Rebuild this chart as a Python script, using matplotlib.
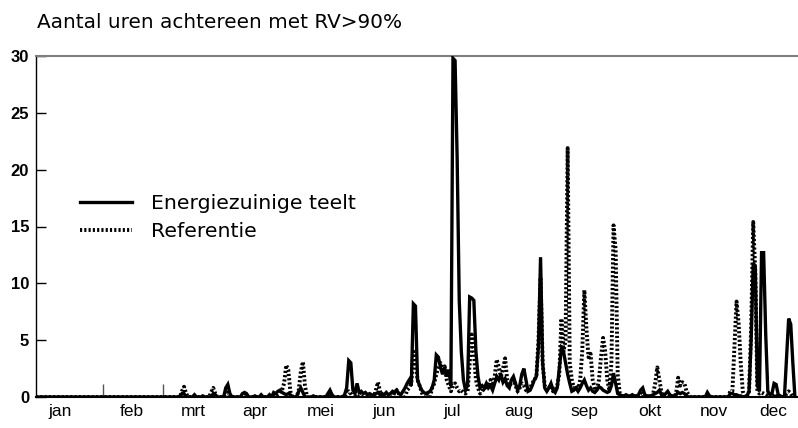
import matplotlib
matplotlib.use("Agg")
import matplotlib.pyplot as plt
import numpy as np

# ---------------- data (daily values, hours in a row with RV>90%) ----------------
maanden = ["jan", "feb", "mrt", "apr", "mei", "jun", "jul", "aug", "sep", "okt", "nov", "dec"]

E_jan = [0,0,0,0,0,0,0,0,0,0, 0,0,0,0,0,0,0,0,0,0, 0,0,0,0,0,0,0,0,0,0, 0]
E_feb = [0,0,0,0,0,0,0,0,0,0, 0,0,0,0,0,0,0,0,0,0, 0,0,0,0,0,0,0,0]
E_mrt = [0,0,0,0,0,0,0,0,0,0, 0,0.3,0.3,0,0,0,0,0.2,0,0, 0,0.1,0,0,0,0,0.3,0.2,0,0, 0]
E_apr = [0,0.8,1.1,0.3,0,0,0,0,0,0.3, 0.4,0.3,0,0,0,0.1,0,0,0.2,0, 0,0,0.2,0,0.4,0.3,0.5,0.6,0.4,0.3]
E_mei = [0.2,0.3,0.2,0,0,0,0.5,0.8,0.4,0, 0,0,0,0.1,0,0,0,0,0,0, 0.3,0.6,0.2,0,0,0,0,0,0.2,0.8, 3.2]
E_jun = [3.0,0.6,0.3,1.2,0.4,0.5,0.3,0.4,0.2,0.3, 0.2,0.1,0.3,0.4,0.2,0.3,0.2,0.4,0.2,0.3, 0.5,0.4,0.6,0.3,0.2,0.5,0.8,1.2,1.5,1.0]
E_jul = [8.2,8.0,1.5,1.0,0.6,0.4,0.3,0.4,0.5,0.8, 1.5,3.7,3.5,2.6,2.0,2.6,1.8,2.4,1.0,29.8, 29.6,21.0,8.5,4.0,1.5,0.6,1.0,8.8,8.7,8.5, 4.0]
E_aug = [1.8,0.8,1.0,0.8,1.2,0.8,1.0,0.6,1.2,1.8, 1.5,2.0,1.3,1.6,1.0,0.8,1.5,1.8,1.2,0.6, 1.0,2.0,2.5,1.5,0.5,0.6,1.0,1.5,1.8,4.5, 12.3]
E_sep = [3.0,0.8,0.5,0.8,1.2,0.6,0.4,0.8,2.5,4.3, 4.0,3.0,2.0,1.2,0.5,0.6,0.8,0.5,0.8,1.2, 1.5,1.0,0.6,0.8,0.5,0.4,0.6,0.9,0.8,0.6]
E_okt = [0.5,0.4,0.5,1.0,2.1,1.2,0.3,0.2,0.1,0.1, 0.2,0.1,0.1,0.2,0.1,0.1,0.2,0.6,0.8,0.2, 0.1,0.1,0.1,0.2,0.3,0.4,0.6,0.2,0.1,0.3, 0.5]
E_nov = [0.2,0.1,0.1,0.2,0.4,0.3,0.4,0.3,0.1,0, 0,0,0,0,0,0,0,0,0.4,0.1, 0,0,0,0,0,0,0,0,0,0.3]
E_dec = [0.3,0.2,0.2,0.1,0.1,0,0,0.1,0.5,5.0, 11.8,11.5,1.0,0.5,12.7,12.7,5.5,0.5,0.2,0.3, 1.2,1.1,0.2,0.1,0,0.1,3.5,6.9,6.4,3.0, 0]

# two isolated one-hour readings (thin grey strokes in February / March)
losse_dagen = [32, 61]
losse_uren = [1.1, 1.1]

R_jan = [0,0,0,0,0,0,0,0,0,0, 0,0,0,0,0,0,0,0,0,0, 0,0,0,0,0,0,0,0,0,0, 0]
R_feb = [0,0,0,0,0,0,0,0,0,0, 0,0,0,0,0,0,0,0,0,0, 0,0,0,0,0,0,0,0]
R_mrt = [0,0,0,0,0,0,0,0,0,0, 0,0.5,0.9,0.3,0,0,0,0,0,0, 0,0,0,0,0,0.4,0.8,0.3,0,0, 0]
R_apr = [0,0.3,0.4,0,0,0,0,0,0,0, 0.2,0,0,0,0,0,0,0,0,0, 0,0,0,0,0,0,0.3,0.5,0.6,1.2]
R_mei = [2.8,2.4,0.5,0,0,0,0.6,2.2,3.1,1.0, 0,0,0,0,0,0,0,0,0,0, 0,0.3,0,0,0,0,0,0,0,0.3, 0.5]
R_jun = [0.3,0,0,0,0.3,0,0,0,0,0.2, 0,0,0.6,1.3,0.5,0,0,0.2,0,0, 0,0.4,0.6,0.3,0,0,0,0.6,0.8,1.2]
R_jul = [4.0,3.0,1.5,1.0,0.4,0,0,0.2,0,0.8, 1.2,2.0,2.6,3.0,2.2,2.7,1.5,1.0,0.5,1.0, 1.2,0.8,0.5,0.6,0.4,0.3,0.5,3.0,5.5,4.0, 1.5]
R_aug = [0.8,0.3,0.5,0.8,0.6,1.0,1.5,1.0,1.8,3.3, 2.6,1.8,2.5,3.4,1.5,1.0,1.2,1.5,1.0,0.5, 0.8,1.2,1.0,0.6,0.5,0.8,1.2,1.5,1.8,5.0, 10.5]
R_sep = [3.0,1.0,0.6,0.8,1.0,0.5,0.6,1.0,2.0,6.9, 4.0,5.0,21.9,3.0,1.5,0.8,1.0,0.6,1.5,4.0, 9.4,6.0,3.5,3.8,1.5,0.8,0.6,1.5,3.5,5.2]
R_okt = [4.0,1.5,0.6,3.0,15.1,13.0,2.0,0.3,0.1,0, 0,0,0,0,0,0,0,0.2,0.3,0, 0,0,0,0.3,1.2,2.6,1.5,0.4,0,0.1, 0]
R_nov = [0,0,0,0.3,1.7,1.0,1.3,1.2,0.5,0.2, 0,0,0,0,0,0,0,0,0,0, 0,0,0,0,0,0,0,0,0,0.5]
R_dec = [0.5,4.5,8.4,6.5,3.0,0.5,0,0,0.5,6.0, 15.4,11.0,0.5,0.3,0.4,0.3,0.2,0,0,0, 0.3,0,0,0,0,0,0.3,0.5,0.3,0, 0]

energiezuinig = np.concatenate([E_jan, E_feb, E_mrt, E_apr, E_mei, E_jun,
                                E_jul, E_aug, E_sep, E_okt, E_nov, E_dec])
referentie = np.concatenate([R_jan, R_feb, R_mrt, R_apr, R_mei, R_jun,
                             R_jul, R_aug, R_sep, R_okt, R_nov, R_dec])
dagen = np.arange(len(energiezuinig))

# ---------------- layout ----------------
W, H = 798, 428
fig = plt.figure(figsize=(W / 100, H / 100), dpi=100)
ax = fig.add_axes([36 / W, 31 / H, 761 / W, 341 / H])

ax.plot(dagen, energiezuinig, color="black", lw=2.4, solid_joinstyle="miter",
        label="Energiezuinige teelt", zorder=3)
ax.plot(dagen, referentie, color="black", lw=2.8, linestyle=(0, (0.55, 0.55)),
        label="Referentie", zorder=4)
ax.vlines(losse_dagen, 0, losse_uren, color="#555555", lw=1.0, zorder=2)

ax.set_xlim(0, 365)
ax.set_ylim(0, 30)

# month labels (centre positions in days)
month_len = [31, 28, 31, 30, 31, 30, 31, 31, 30, 31, 30, 31]
starts = np.concatenate([[0], np.cumsum(month_len)[:-1]])
label_pos = starts + np.array(month_len) / 2 + np.array([-4, 1, 1, 0, 1, 1, 3, 4, 5, 6, 6, 4])
ax.set_xticks(label_pos)
ax.set_xticklabels(maanden, fontsize=12.5, family=["Liberation Sans Narrow", "Liberation Sans"])
ax.tick_params(axis="x", length=0, pad=5)

ax.set_yticks([0, 5, 10, 15, 20, 25, 30])
ax.set_yticklabels(["0", "5", "10", "15", "20", "25", "30"], fontsize=12,
                   family=["Liberation Sans Narrow", "Liberation Sans"], fontweight="bold")
ax.tick_params(axis="y", direction="in", length=7, width=1, pad=5, color="black")

ax.spines["right"].set_visible(False)
ax.spines["top"].set_color("#7f7f7f")
ax.spines["top"].set_linewidth(1.5)
ax.spines["left"].set_color("black")
ax.spines["left"].set_linewidth(1.0)
ax.spines["bottom"].set_color("black")
ax.spines["bottom"].set_linewidth(1.5)

fig.text(37 / W, 1 - 22 / H, "Aantal uren achtereen met RV>90%", fontsize=14.4,
         ha="left", va="center", family="DejaVu Sans")

leg = ax.legend(loc="upper left", bbox_to_anchor=(80 / W, 1 - 194 / H),
                bbox_transform=fig.transFigure, frameon=False,
                handlelength=2.55, handletextpad=0.95, labelspacing=0.45,
                borderpad=0, borderaxespad=0, prop={"family": "DejaVu Sans", "size": 14.7})

fig.savefig("out.png", dpi=100)
